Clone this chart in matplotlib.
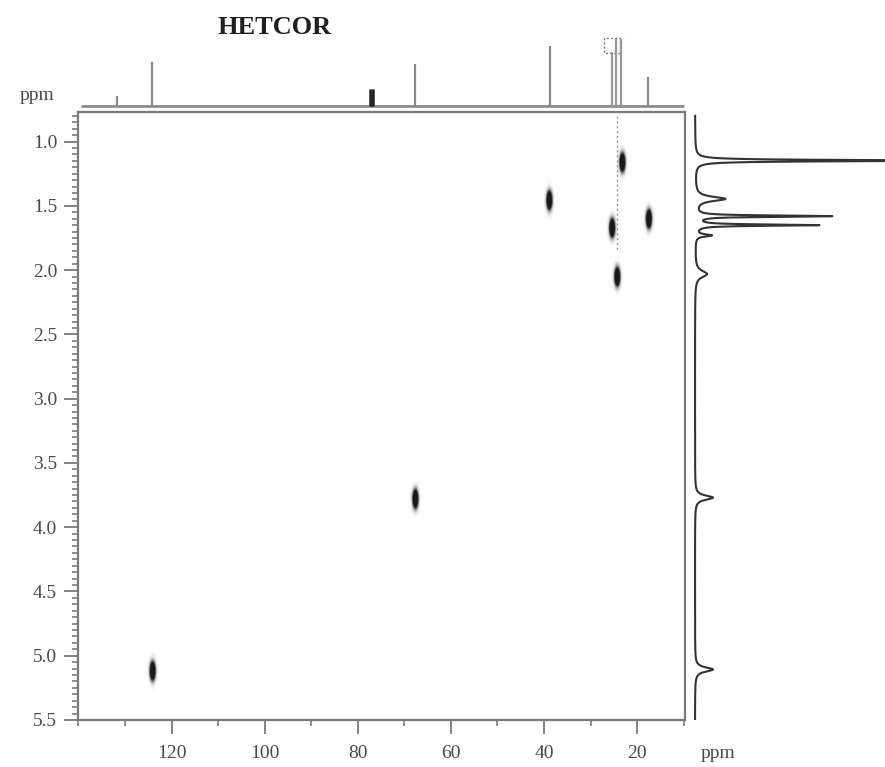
import numpy as np
import matplotlib
matplotlib.use("Agg")
import matplotlib.pyplot as plt
from matplotlib.ticker import MultipleLocator
from matplotlib.patches import Rectangle

# ---- data ----
# 13C (top) 1D spectrum: shifts (ppm) and relative heights
c13_shift = [131.7, 124.1, 77.3, 77.0, 76.7, 67.6, 38.8, 25.4, 24.5, 23.5, 17.6]
c13_height = [10, 44, 17, 17, 17, 42, 60, 54, 67, 67, 29]
c13_color = ["#8a8a8a", "#8a8a8a", "#222222", "#222222", "#222222", "#8a8a8a",
             "#8a8a8a", "#9a9a9a", "#9a9a9a", "#9a9a9a", "#8a8a8a"]

# 1H (right) 1D spectrum: shifts (ppm), heights, half-widths
h1_shift = [1.148, 1.446, 1.58, 1.65, 1.73, 2.03, 3.77, 5.107]
h1_height = [260, 30, 136, 123, 16, 12, 18, 18]
h1_width = [0.006, 0.02, 0.006, 0.006, 0.01, 0.03, 0.02, 0.02]

# HETCOR cross peaks: (13C ppm, 1H ppm)
cross_c = [124.1, 67.6, 38.8, 23.1, 25.3, 17.4, 24.2]
cross_h = [5.12, 3.78, 1.455, 1.16, 1.67, 1.60, 2.05]

x_ticks = [120, 100, 80, 60, 40, 20]
y_ticks = [1.0, 1.5, 2.0, 2.5, 3.0, 3.5, 4.0, 4.5, 5.0, 5.5]

# ---- figure ----
W, H = 885, 767
fig = plt.figure(figsize=(W / 100, H / 100), dpi=100)
serif = ["Liberation Serif", "DejaVu Serif"]
txt_col = "#4a4a4a"
spine_col = "#7a7a7a"

def fx(px):
    return px / W

def fy(py):
    return 1 - py / H

ax = fig.add_axes([fx(78), fy(720), fx(685) - fx(78), fy(112) - fy(720)])
XL = (140.1, 9.7)
YL = (5.5, 0.77)

# cross peaks as blurred 2D gaussians
gx = np.linspace(XL[0], XL[1], 1200)
gy = np.linspace(YL[1], YL[0], 1200)
GX, GY = np.meshgrid(gx, gy)
Z = np.zeros_like(GX)
for c, h in zip(cross_c, cross_h):
    Z += np.exp(-((GX - c) ** 2) / (2 * 0.38 ** 2) - ((GY - h) ** 2) / (2 * 0.045 ** 2))
img = 1 - np.clip(Z * 2.6, 0, 0.9)
ax.imshow(img, extent=[XL[0], XL[1], YL[0], YL[1]], origin="upper", cmap="gray",
          vmin=0, vmax=1, aspect="auto", interpolation="bilinear")
ax.set_xlim(*XL)
ax.set_ylim(*YL)

# dashed guide line
ax.plot([24.4, 24.4], [0.80, 1.86], ls=(0, (1.5, 2)), color="#999999", lw=1.0)

for s in ax.spines.values():
    s.set_color(spine_col)
    s.set_linewidth(1.6)
ax.set_xticks(x_ticks)
ax.set_yticks(y_ticks)
ax.xaxis.set_minor_locator(MultipleLocator(10))
ax.yaxis.set_minor_locator(MultipleLocator(0.05))
ax.set_xticklabels([str(v) for v in x_ticks])
ax.set_yticklabels([f"{v:.1f}" for v in y_ticks])
ax.tick_params(which="major", direction="out", length=10, width=1.3, color=spine_col,
               labelsize=14, labelcolor=txt_col)
ax.tick_params(which="minor", direction="out", length=4, width=1.2, color=spine_col)
ax.tick_params(axis="x", which="major", pad=8)
ax.tick_params(axis="y", which="major", pad=5)
for lab in ax.get_xticklabels() + ax.get_yticklabels():
    lab.set_family(serif)

# ---- top 13C spectrum ----
axt = fig.add_axes([fx(78), fy(108), fx(685) - fx(78), fy(28) - fy(108)])
axt.set_xlim(*XL)
axt.set_ylim(-2, 78)
axt.axis("off")
axt.plot([139.5, 10.0], [0, 0], color="#8a8a8a", lw=2.0, solid_capstyle="butt")
axt.plot([139.5, 10.0], [-2, -2], color="#c8c8c8", lw=1.0)
for s, hgt, col in zip(c13_shift, c13_height, c13_color):
    axt.plot([s, s], [0, hgt], color=col, lw=1.6 if col != "#222222" else 1.8,
             solid_capstyle="butt")
axt.add_patch(Rectangle((23.6, 53), 3.4, 15, fill=False, ls=(0, (1.5, 1.5)),
                        ec="#6a7a9a", lw=1.0))

# ---- right 1H spectrum ----
axr = fig.add_axes([fx(680), fy(720), 1 - fx(680), fy(112) - fy(720)])
axr.set_ylim(*YL)
axr.set_xlim(-15, 190)
axr.axis("off")
yy = np.linspace(0.80, 5.5, 8000)
xx = np.zeros_like(yy)
for c, hgt, w in zip(h1_shift, h1_height, h1_width):
    xx += hgt * w ** 2 / ((yy - c) ** 2 + w ** 2)
axr.plot(xx, yy, color="#333333", lw=1.5)

# ---- texts ----
fig.text(fx(275), fy(28), "HETCOR", family=serif, weight="bold", fontsize=19,
         color="#1e1e1e", ha="center", va="center")
fig.text(fx(37), fy(95), "ppm", family=serif, fontsize=14, color=txt_col,
         ha="center", va="center")
fig.text(fx(718), fy(753), "ppm", family=serif, fontsize=14, color=txt_col,
         ha="center", va="center")

fig.savefig("out.png", dpi=100, facecolor="white")
